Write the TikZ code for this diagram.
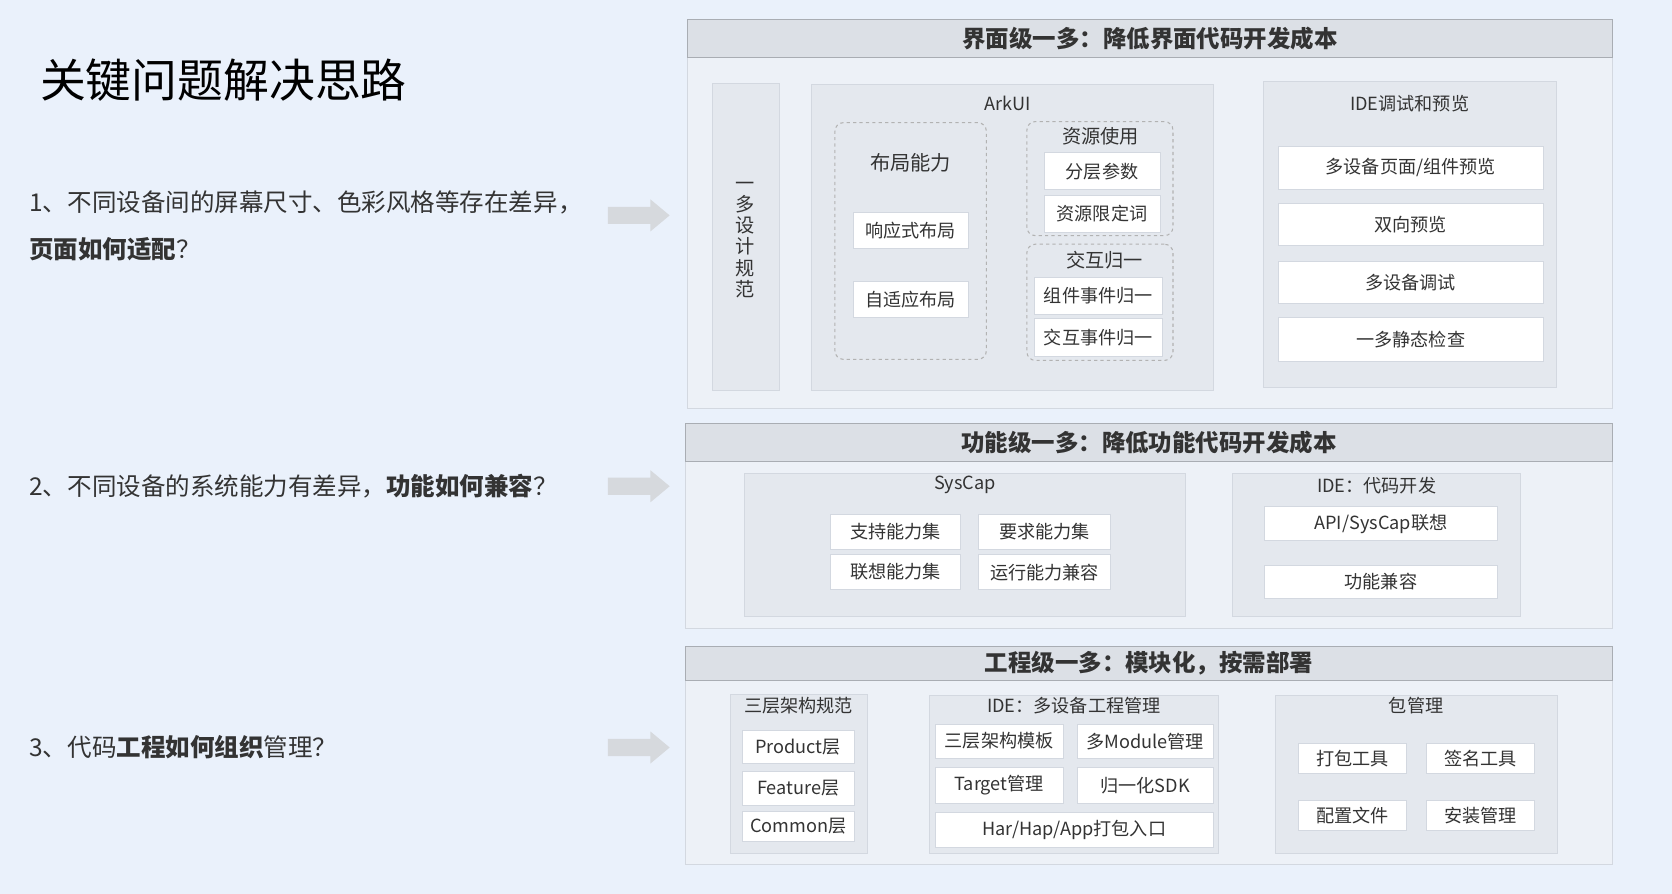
\documentclass[tikz,border=0pt]{standalone}
\usepackage{fontspec}
\setmainfont{Noto Sans CJK SC}
\usetikzlibrary{fit, positioning}
\definecolor{pagebg}{HTML}{EAF1FB}
\definecolor{panelbg}{HTML}{EDF1F7}
\definecolor{panelline}{HTML}{D3D8E0}
\definecolor{headbg}{HTML}{DCE0E6}
\definecolor{groupbg}{HTML}{E4E8EE}
\definecolor{inkgray}{HTML}{333333}
\definecolor{arrowgray}{HTML}{D6D9DD}
\tikzset{panel/.style={draw=panelline, fill=panelbg, line width=1pt, inner sep=0pt},
headbar/.style={draw=panelline!80!black, fill=headbg, line width=1pt, inner sep=0pt, font=\fontsize{22}{26}\selectfont\bfseries, text=inkgray},
groupbox/.style={draw=panelline, fill=groupbg, line width=0.8pt, inner sep=0pt},
dashbox/.style={draw=gray!60, dashed, line width=1pt, rounded corners=8pt, inner sep=0pt},
itembox/.style={draw=panelline, fill=white, line width=0.8pt, inner sep=0pt, font=\fontsize{17}{20}\selectfont, text=inkgray},
grouplabel/.style={font=\fontsize{17}{20}\selectfont, text=inkgray},
lefttext/.style={anchor=west, font=\fontsize{23}{27}\selectfont, text=inkgray}}
\begin{document}
\begin{tikzpicture}[x=1pt, y=-1pt]
    \useasboundingbox (0,0) rectangle (1568,838);
    \fill[pagebg] (0,0) rectangle (1568,838);
    % Title and questions
    \node[anchor=west, font=\fontsize{43}{48}\selectfont, text=black] (title) at (34,75) {关键问题解决思路};
    \node[lefttext] (q1a) at (24,190) {1、不同设备间的屏幕尺寸、色彩风格等存在差异，};
    \node[lefttext] (q1b) at (24,234) {\textbf{页面如何适配}？};
    \node[lefttext] (q2) at (24,456) {2、不同设备的系统能力有差异，\textbf{功能如何兼容}？};
    \node[lefttext] (q3) at (24,701) {3、代码\textbf{工程如何组织}管理？};
    \foreach \ya [count=\i] in {202, 456, 701} {
        \coordinate (arrow\i) at (570,\ya);
        \fill[arrowgray] (arrow\i) ++(0,-8) -- ++(40,0) -- ++(0,-7) -- ++(18,15) -- ++(-18,15) -- ++(0,-7) -- ++(-40,0) -- cycle;
    }
    % Panel 1
    \node[panel, fit={(645,18)(1512,383)}] (p1) {};
    \node[headbar, fit={(645,18)(1512,54)}] (h1) {};
    \node[headbar, draw=none, fill=none] at (h1) {界面级一多：降低界面代码开发成本};
    \node[groupbox, fit={(668,78)(731,366)}] (spec) {};
    \node[grouplabel, align=center, font=\fontsize{18}{20}\selectfont] at (699,225) {一\\多\\设\\计\\规\\范};
    \node[groupbox, fit={(761,79)(1138,366)}] (arkui) {};
    \node[grouplabel] at (945,97) {ArkUI};
    \node[dashbox, fit={(783,115)(925,337)}] (layout) {};
    \node[grouplabel, font=\fontsize{19}{22}\selectfont] at (854,153) {布局能力};
    \node[itembox, fit={(800,199)(908,233)}] (resp) {};
    \node[itembox, draw=none, fill=none] at (resp) {响应式布局};
    \node[itembox, fit={(800,264)(908,298)}] (adapt) {};
    \node[itembox, draw=none, fill=none] at (adapt) {自适应布局};
    \node[dashbox, fit={(963,114)(1100,221)}] (res) {};
    \node[grouplabel, font=\fontsize{18}{21}\selectfont] at (1032,128) {资源使用};
    \node[itembox, fit={(979,143)(1088,178)}] (res1) {};
    \node[itembox, draw=none, fill=none] at (res1) {分层参数};
    \node[itembox, fit={(979,183)(1088,218)}] (res2) {};
    \node[itembox, draw=none, fill=none] at (res2) {资源限定词};
    \node[dashbox, fit={(963,229)(1100,338)}] (inter) {};
    \node[grouplabel, font=\fontsize{18}{21}\selectfont] at (1036,244) {交互归一};
    \node[itembox, fit={(970,260)(1090,295)}] (int1) {};
    \node[itembox, draw=none, fill=none] at (int1) {组件事件归一};
    \node[itembox, fit={(970,299)(1090,334)}] (int2) {};
    \node[itembox, draw=none, fill=none] at (int2) {交互事件归一};
    \node[groupbox, fit={(1185,76)(1460,363)}] (ide1) {};
    \node[grouplabel] at (1322,97) {IDE调试和预览};
    \foreach \yt/\yb/\txt [count=\i] in {137/178/{多设备页面/组件预览}, 191/230/双向预览, 245/285/多设备调试, 298/339/一多静态检查} {
        \node[itembox, fit={(1199,\yt)(1447,\yb)}] (ideitem\i) {};
        \node[itembox, draw=none, fill=none] at (ideitem\i) {\txt};
    }
    % Panel 2
    \node[panel, fit={(643,397)(1512,589)}] (p2) {};
    \node[headbar, fit={(643,397)(1512,433)}] (h2) {};
    \node[headbar, draw=none, fill=none] at (h2) {功能级一多：降低功能代码开发成本};
    \node[groupbox, fit={(698,444)(1112,578)}] (syscap) {};
    \node[grouplabel] at (905,455) {SysCap};
    \foreach \xl/\xr/\yt/\yb/\txt [count=\i] in {779/901/482/515/支持能力集, 918/1041/482/515/要求能力集, 779/901/520/553/联想能力集, 918/1041/520/553/运行能力兼容} {
        \node[itembox, fit={(\xl,\yt)(\xr,\yb)}] (cap\i) {};
        \node[itembox, draw=none, fill=none] at (cap\i) {\txt};
    }
    \node[groupbox, fit={(1156,444)(1426,578)}] (ide2) {};
    \node[grouplabel] at (1291,455) {IDE：代码开发};
    \node[itembox, fit={(1186,475)(1404,507)}] (api) {};
    \node[itembox, draw=none, fill=none] at (api) {API/SysCap联想};
    \node[itembox, fit={(1186,530)(1404,561)}] (compat) {};
    \node[itembox, draw=none, fill=none] at (compat) {功能兼容};
    % Panel 3
    \node[panel, fit={(643,606)(1512,811)}] (p3) {};
    \node[headbar, fit={(643,606)(1512,638)}] (h3) {};
    \node[headbar, draw=none, fill=none] at (h3) {工程级一多：模块化，按需部署};
    \node[groupbox, fit={(685,651)(813,800)}] (arch) {};
    \node[grouplabel] at (749,662) {三层架构规范};
    \foreach \yt/\yb/\txt [count=\i] in {685/716/Product层, 723/755/Feature层, 761/789/Common层} {
        \node[itembox, fit={(696,\yt)(801,\yb)}] (layer\i) {};
        \node[itembox, draw=none, fill=none] at (layer\i) {\txt};
    }
    \node[groupbox, fit={(872,652)(1143,800)}] (ide3) {};
    \node[grouplabel] at (1007,662) {IDE：多设备工程管理};
    \foreach \xl/\xr/\yt/\yb/\txt [count=\i] in {877/997/679/711/三层架构模板, 1010/1138/679/711/多Module管理, 877/997/720/753/Target管理, 1010/1138/720/753/归一化SDK, 877/1138/762/795/{Har/Hap/App打包入口}} {
        \node[itembox, fit={(\xl,\yt)(\xr,\yb)}] (proj\i) {};
        \node[itembox, draw=none, fill=none] at (proj\i) {\txt};
    }
    \node[groupbox, fit={(1196,652)(1461,800)}] (pkg) {};
    \node[grouplabel] at (1328,662) {包管理};
    \foreach \xl/\xr/\yt/\yb/\txt [count=\i] in {1218/1319/697/725/打包工具, 1338/1439/697/725/签名工具, 1218/1319/751/779/配置文件, 1338/1439/751/779/安装管理} {
        \node[itembox, fit={(\xl,\yt)(\xr,\yb)}] (tool\i) {};
        \node[itembox, draw=none, fill=none] at (tool\i) {\txt};
    }
\end{tikzpicture}
\end{document}
